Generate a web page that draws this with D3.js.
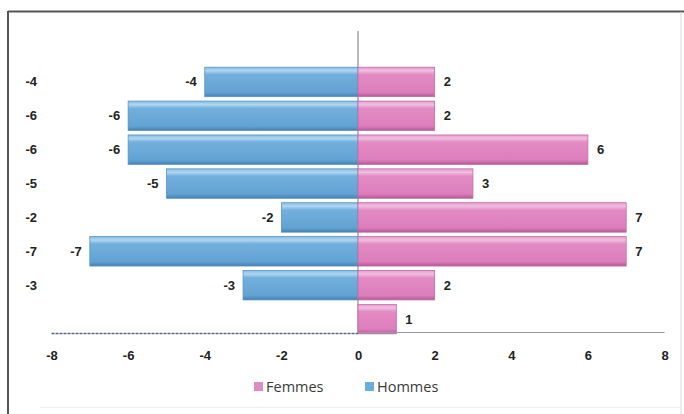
<!DOCTYPE html>
<html><head><meta charset="utf-8">
<script src="https://cdn.jsdelivr.net/npm/d3@7/dist/d3.min.js"></script>
<style>body{margin:0;background:#fff}svg{display:block}</style>
</head><body><svg id="c" width="684" height="414"></svg>
<script>
const categories = ["-4","-6","-6","-5","-2","-7","-3",""];
const hommes = [-4,-6,-6,-5,-2,-7,-3,null];
const femmes = [2,2,6,3,7,7,2,1];
const xTicks = [-8,-6,-4,-2,0,2,4,6,8];
const seriesNames = ["Femmes","Hommes"];

const svg = d3.select("#c");
const x = d3.scaleLinear().domain([-8,8]).range([51.5,664.5]);
const y = d3.scaleBand().domain(d3.range(categories.length)).range([65,336]).paddingInner(0.13).paddingOuter(0.065);

const defs = svg.append("defs");
function grad(id, stops){
  const g = defs.append("linearGradient").attr("id",id).attr("x1",0).attr("y1",0).attr("x2",0).attr("y2",1);
  stops.forEach(s=>g.append("stop").attr("offset",s[0]).attr("stop-color",s[1]));
}
grad("gB",[[0,"#86bce4"],[0.12,"#b0d6f1"],[0.25,"#72afdc"],[0.85,"#62a3d4"],[1,"#4580b2"]]);
grad("gP",[[0,"#e69bcd"],[0.12,"#f0bfe0"],[0.25,"#e38bc4"],[0.85,"#dc7ebc"],[1,"#b45894"]]);

// frame
svg.append("line").attr("x1",8).attr("x2",684).attr("y1",11.5).attr("y2",11.5).attr("stroke","#555").attr("stroke-width",2);
svg.append("line").attr("x1",8).attr("x2",8).attr("y1",11).attr("y2",414).attr("stroke","#555").attr("stroke-width",2);
svg.append("line").attr("x1",681).attr("x2",681).attr("y1",12).attr("y2",414).attr("stroke","#d8d8d8").attr("stroke-width",1);
svg.append("line").attr("x1",40).attr("x2",681).attr("y1",407.5).attr("y2",407.5).attr("stroke","#eee").attr("stroke-width",1);

// zero line
svg.append("line").attr("x1",x(0)).attr("x2",x(0)).attr("y1",31).attr("y2",333).attr("stroke","#777").attr("stroke-width",1);

const rows = d3.range(categories.length);
svg.append("g").selectAll("rect").data(rows.filter(i=>hommes[i]!=null)).join("rect")
  .attr("x",i=>x(hommes[i])).attr("y",i=>y(i)).attr("width",i=>x(0)-x(hommes[i])).attr("height",y.bandwidth())
  .attr("fill","url(#gB)").attr("stroke","#5a93c2").attr("stroke-width",0.8);
svg.append("g").selectAll("rect").data(rows.filter(i=>femmes[i]!=null)).join("rect")
  .attr("x",x(0)).attr("y",i=>y(i)).attr("width",i=>x(femmes[i])-x(0)).attr("height",y.bandwidth())
  .attr("fill","url(#gP)").attr("stroke","#c46aa5").attr("stroke-width",0.8);

const lblFont = "'Liberation Sans', Arial, sans-serif";
const fs = 13;
svg.append("g").selectAll("text").data(rows.filter(i=>hommes[i]!=null)).join("text")
  .attr("x",i=>x(hommes[i])-8).attr("y",i=>y(i)+y.bandwidth()/2).attr("dy","0.35em")
  .attr("text-anchor","end").attr("font-family",lblFont).attr("font-weight","bold").attr("font-size",fs).attr("fill","#222")
  .text(i=>hommes[i]);
svg.append("g").selectAll("text").data(rows.filter(i=>femmes[i]!=null)).join("text")
  .attr("x",i=>x(femmes[i])+9).attr("y",i=>y(i)+y.bandwidth()/2).attr("dy","0.35em")
  .attr("text-anchor","start").attr("font-family",lblFont).attr("font-weight","bold").attr("font-size",fs).attr("fill","#222")
  .text(i=>femmes[i]);

svg.append("g").selectAll("text").data(rows).join("text")
  .attr("x",37).attr("y",i=>y(i)+y.bandwidth()/2).attr("dy","0.35em")
  .attr("text-anchor","end").attr("font-family",lblFont).attr("font-weight","bold").attr("font-size",fs).attr("fill","#222")
  .text(i=>categories[i]);

const ax = svg.append("g").attr("transform","translate(0,333)")
  .call(d3.axisBottom(x).tickValues(xTicks).tickSize(0).tickPadding(18).tickFormat(d=>d));
ax.select(".domain").remove();
ax.selectAll("text").attr("font-family",lblFont).attr("font-weight","bold").attr("font-size",fs).attr("fill","#222");
svg.append("line").attr("x1",x(-8)).attr("x2",x(0)).attr("y1",333.5).attr("y2",333.5).attr("stroke","#5a6088").attr("stroke-width",1.3).attr("stroke-dasharray","3,1");
svg.append("line").attr("x1",x(0)).attr("x2",x(8)).attr("y1",332.5).attr("y2",332.5).attr("stroke","#9a9aa6").attr("stroke-width",1.2);

const legColors = ["#e08cc4","#6aaede"];
const legX = [254,365];
const lg = svg.append("g");
seriesNames.forEach((n,k)=>{
  lg.append("rect").attr("x",legX[k]).attr("y",382).attr("width",9).attr("height",9).attr("fill",legColors[k]);
  lg.append("text").attr("x",legX[k]+12).attr("y",387).attr("dy","0.35em")
    .attr("font-family","'Open Sans', sans-serif").attr("font-weight",500).attr("font-size",14.5).attr("fill","#3a3a3a").text(n);
});
</script></body></html>
